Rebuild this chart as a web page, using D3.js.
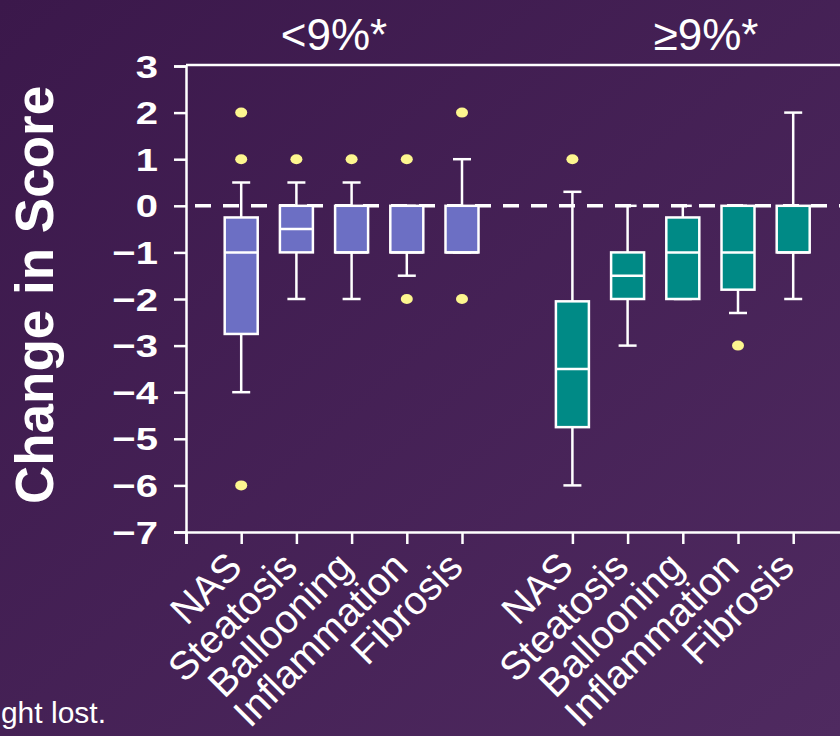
<!DOCTYPE html>
<html>
<head>
<meta charset="utf-8">
<script src="https://cdn.jsdelivr.net/npm/d3@7"></script>
<style>
  html, body { margin: 0; padding: 0; background: #3e1b4e; }
  svg { display: block; }
  text { font-family: "Liberation Sans", Arial, sans-serif; fill: #ffffff; }
</style>
</head>
<body>
<svg id="chart" width="840" height="736"></svg>
<script>
// ---- data ----
const groupLabels = ["<9%*", "\u22659%*"];
const categories = ["NAS", "Steatosis", "Ballooning", "Inflammation", "Fibrosis"];
const groupOfBox = [0, 0, 0, 0, 0, 1, 1, 1, 1, 1];
const slotOfBox = [1, 2, 3, 4, 5, 7, 8, 9, 10, 11];
const lowerWhisker = [-4, -2, -2, -1.5, -1, -6, -3, -2, -2.3, -2];
const q1 = [-2.75, -1, -1, -1, -1, -4.75, -2, -2, -1.8, -1];
const median = [-1, -0.5, -1, -1, -1, -3.5, -1.5, -1, -1, -1];
const q3 = [-0.25, 0, 0, 0, 0, -2.05, -1, -0.25, 0, 0];
const upperWhisker = [0.5, 0.5, 0.5, 0, 1, 0.3, 0, 0, 0, 2];
const outliers = [[2, 1, -6], [1], [1], [1, -2], [2, -2], [1], [], [], [-3], []];
const yTicks = [3, 2, 1, 0, -1, -2, -3, -4, -5, -6, -7];
const yTitle = "Change in Score";
const footnote = "ght lost.";
const groupColors = ["#6c6fc4", "#008a86"];

// ---- layout ----
const svg = d3.select("#chart");
const W = 840, H = 736;
const defs = svg.append("defs");
const grad = defs.append("linearGradient").attr("id", "bg")
  .attr("x1", "0").attr("y1", "0").attr("x2", "1").attr("y2", "1");
grad.append("stop").attr("offset", "0").attr("stop-color", "#3b184b");
grad.append("stop").attr("offset", "1").attr("stop-color", "#4f2a60");
svg.append("rect").attr("width", W).attr("height", H).attr("fill", "url(#bg)");

const x = d3.scaleLinear().domain([0, 12]).range([186, 848.4]);
const y = d3.scaleLinear().domain([3, -7]).range([66, 532]);
const boxW = 33, capW = 18;

// frame top line
svg.append("line").attr("x1", x(0)).attr("x2", W).attr("y1", y(3) - 1).attr("y2", y(3) - 1)
  .attr("stroke", "#fff").attr("stroke-width", 2.5);

// y axis (ticks + line), labels drawn separately (wide bold digits)
const yAxis = d3.axisLeft(y).tickValues(yTicks).tickSize(12).tickFormat("");
const gy = svg.append("g").attr("transform", `translate(${x(0)},0)`).call(yAxis);
gy.select(".domain").attr("stroke", "#fff").attr("stroke-width", 2.5);
gy.selectAll(".tick line").attr("stroke", "#fff").attr("stroke-width", 2.5);
svg.append("g").selectAll("text").data(yTicks).join("text")
  .attr("transform", d => `translate(158,${y(d)}) scale(1.25,1)`)
  .attr("text-anchor", "end").attr("dy", "0.36em")
  .style("font-size", "32px").style("font-weight", "bold")
  .text(d => d < 0 ? "\u2212" + Math.abs(d) : String(d));

// x axis
const xAxis = d3.axisBottom(x).tickValues([0].concat(slotOfBox)).tickSize(12).tickFormat("");
const gx = svg.append("g").attr("transform", `translate(0,${y(-7)})`).call(xAxis);
gx.select(".domain").attr("stroke", "#fff").attr("stroke-width", 2.5);
gx.selectAll(".tick line").attr("stroke", "#fff").attr("stroke-width", 2.5);

// x labels (rotated)
svg.append("g").selectAll("text").data(slotOfBox).join("text")
  .attr("transform", (s) => `translate(${x(s) + 3},${y(-7) + 37}) rotate(-45)`)
  .attr("text-anchor", "end")
  .style("font-size", "39.5px")
  .text((s, i) => categories[i % 5]);

// zero dashed line
svg.append("line").attr("x1", x(0) + 9).attr("x2", W).attr("y1", y(0)).attr("y2", y(0))
  .attr("stroke", "#fff").attr("stroke-width", 3.5).attr("stroke-dasharray", "16 12");

// boxes
const idx = d3.range(slotOfBox.length);
const bx = svg.append("g");
idx.forEach(i => {
  const cx = x(slotOfBox[i]);
  const g = bx.append("g");
  g.append("line").attr("x1", cx).attr("x2", cx).attr("y1", y(upperWhisker[i])).attr("y2", y(lowerWhisker[i]))
    .attr("stroke", "#fff").attr("stroke-width", 2.5);
  [upperWhisker[i], lowerWhisker[i]].forEach(v => {
    g.append("line").attr("x1", cx - capW / 2).attr("x2", cx + capW / 2).attr("y1", y(v)).attr("y2", y(v))
      .attr("stroke", "#fff").attr("stroke-width", 2.5);
  });
  g.append("rect").attr("x", cx - boxW / 2).attr("width", boxW)
    .attr("y", y(q3[i])).attr("height", y(q1[i]) - y(q3[i]))
    .attr("fill", groupColors[groupOfBox[i]]).attr("stroke", "#fff").attr("stroke-width", 2.5);
  g.append("line").attr("x1", cx - boxW / 2).attr("x2", cx + boxW / 2).attr("y1", y(median[i])).attr("y2", y(median[i]))
    .attr("stroke", "#fff").attr("stroke-width", 2.5);
  outliers[i].forEach(v => {
    g.append("ellipse").attr("cx", cx).attr("cy", y(v)).attr("rx", 6).attr("ry", 5).attr("fill", "#fdf68f");
  });
});

// group titles
const titleX = [334, 706];
svg.append("g").selectAll("text").data(groupLabels).join("text")
  .attr("x", (d, i) => titleX[i]).attr("y", 50).attr("text-anchor", "middle")
  .style("font-size", "44px").text(d => d);

// y title
svg.append("text").attr("transform", `translate(53,295) rotate(-90)`).attr("text-anchor", "middle")
  .style("font-size", "53px").style("font-weight", "bold").text(yTitle);

// footnote fragment
svg.append("text").attr("x", 106).attr("y", 723).attr("text-anchor", "end")
  .style("font-size", "30px").text(footnote);
</script>
</body>
</html>
